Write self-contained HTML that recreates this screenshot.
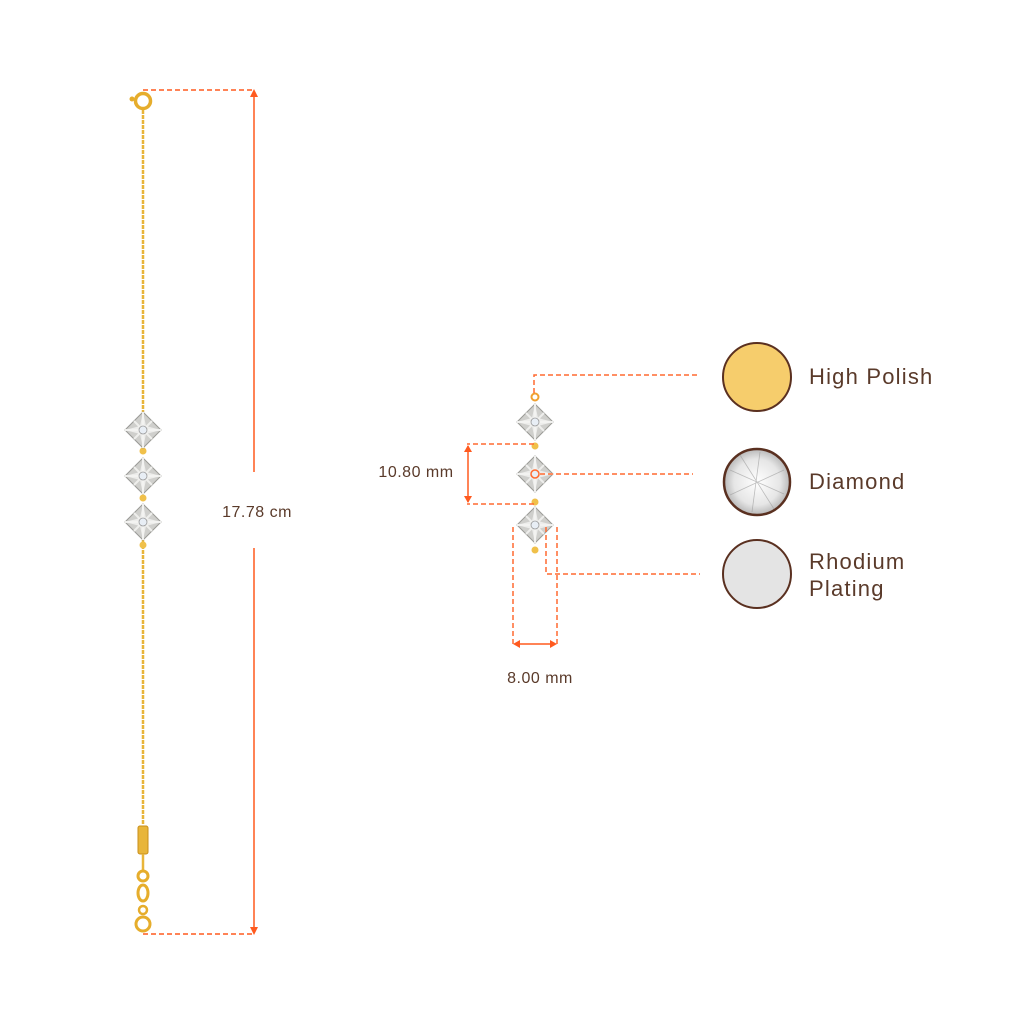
<!DOCTYPE html>
<html><head><meta charset="utf-8"><style>
html,body{margin:0;padding:0;background:#fff;}
svg{display:block}
text{font-family:"Liberation Sans",sans-serif;}
</style></head><body>
<svg width="1024" height="1024" viewBox="0 0 1024 1024" xmlns="http://www.w3.org/2000/svg">
<defs>
<radialGradient id="dg" cx="50%" cy="50%" r="50%">
<stop offset="0" stop-color="#fff"/><stop offset="0.7" stop-color="#e6e6e6"/><stop offset="1" stop-color="#b8b8b8"/>
</radialGradient>
<g id="stone">
<polygon points="0,-18 18,0 0,18 -18,0" fill="#cfcfcc" stroke="#9a9a96" stroke-width="1"/>
<path d="M0,-18 L0,18 M-18,0 L18,0 M-9,-9 L9,9 M9,-9 L-9,9" stroke="#eeeeec" stroke-width="2"/>
<path d="M0,-18 L3,-4 L18,0 L3,4 L0,18 L-3,4 L-18,0 L-3,-4 Z" fill="#f4f4f2" opacity="0.8"/>
<circle r="4" fill="#e8eef5" stroke="#999" stroke-width="0.8"/>
</g>
</defs>
<!-- left chain -->
<line x1="143" y1="110" x2="143" y2="412" stroke="#e8b53a" stroke-width="2.5" stroke-dasharray="4 1"/>
<line x1="143" y1="540" x2="143" y2="825" stroke="#e8b53a" stroke-width="2.5" stroke-dasharray="4 1"/>
<circle cx="143" cy="101" r="7.5" fill="none" stroke="#e6ad2c" stroke-width="3.5"/>
<circle cx="132" cy="99" r="2.5" fill="#e6ad2c"/>
<circle cx="143" cy="451" r="3.5" fill="#f0c04a"/>
<circle cx="143" cy="498" r="3.5" fill="#f0c04a"/>
<circle cx="143" cy="545" r="3.5" fill="#f0c04a"/>
<use href="#stone" x="143" y="430"/>
<use href="#stone" x="143" y="476"/>
<use href="#stone" x="143" y="522"/>
<rect x="138" y="826" width="10" height="28" rx="2" fill="#e8b53a" stroke="#c98e1a"/>
<line x1="143" y1="854" x2="143" y2="872" stroke="#e8b53a" stroke-width="2.5"/>
<circle cx="143" cy="876" r="5" fill="none" stroke="#e6ad2c" stroke-width="3"/>
<ellipse cx="143" cy="893" rx="5" ry="8" fill="none" stroke="#e6ad2c" stroke-width="3"/>
<circle cx="143" cy="924" r="7" fill="none" stroke="#e6ad2c" stroke-width="3"/>
<circle cx="143" cy="910" r="4" fill="none" stroke="#e6ad2c" stroke-width="2.5"/>
<!-- 17.78 dims -->
<g stroke="#ff5a1f" stroke-width="1.5" fill="none">
<line x1="143" y1="90" x2="254" y2="90" stroke-dasharray="5 3"/>
<line x1="143" y1="934" x2="254" y2="934" stroke-dasharray="5 3"/>
<line x1="254" y1="92" x2="254" y2="472"/>
<line x1="254" y1="548" x2="254" y2="932"/>
</g>
<polygon points="254,89 250,97 258,97" fill="#ff5a1f"/>
<polygon points="254,935 250,927 258,927" fill="#ff5a1f"/>
<text x="257" y="517" font-size="16" fill="#5a3a2a" text-anchor="middle" letter-spacing="0.5">17.78 cm</text>
<!-- right pendant -->
<circle cx="535" cy="397" r="3.5" fill="none" stroke="#f0a030" stroke-width="2"/>
<circle cx="535" cy="446" r="3.5" fill="#f0c04a"/>
<circle cx="535" cy="502" r="3.5" fill="#f0c04a"/>
<circle cx="535" cy="550" r="3.5" fill="#f0c04a"/>
<use href="#stone" x="535" y="422"/>
<use href="#stone" x="535" y="474"/>
<use href="#stone" x="535" y="525"/>
<g stroke="#ff6a30" stroke-width="1.5" fill="none" stroke-dasharray="5 3">
<polyline points="534,393 534,375 698,375"/>
<line x1="540" y1="474" x2="693" y2="474"/>
<circle cx="535" cy="474" r="4" stroke-dasharray="none"/>
<line x1="534" y1="444" x2="467" y2="444"/>
<line x1="534" y1="504" x2="467" y2="504"/>
<polyline points="546,527 546,574 700,574"/>
<line x1="513" y1="527" x2="513" y2="644"/>
<line x1="557" y1="527" x2="557" y2="644"/>
</g>
<g stroke="#ff5a1f" stroke-width="1.5">
<line x1="468" y1="446" x2="468" y2="502"/>
<line x1="515" y1="644" x2="555" y2="644"/>
</g>
<g fill="#ff5a1f">
<polygon points="468,445 464,452 472,452"/>
<polygon points="468,503 464,496 472,496"/>
<polygon points="513,644 520,640 520,648"/>
<polygon points="557,644 550,640 550,648"/>
</g>
<text x="416" y="477" font-size="16" fill="#5a3a2a" text-anchor="middle" letter-spacing="0.5">10.80 mm</text>
<text x="540" y="683" font-size="16" fill="#5a3a2a" text-anchor="middle" letter-spacing="0.5">8.00 mm</text>
<!-- swatches -->
<circle cx="757" cy="377" r="34" fill="#f6cd6c" stroke="#5a3020" stroke-width="2"/>
<circle cx="757" cy="482" r="33" fill="url(#dg)" stroke="#5a3020" stroke-width="2.5"/>
<g stroke="#999" stroke-width="0.8" opacity="0.6">
<line x1="730" y1="470" x2="784" y2="494"/><line x1="740" y1="455" x2="774" y2="509"/>
<line x1="730" y1="495" x2="784" y2="470"/><line x1="760" y1="452" x2="752" y2="512"/>
</g>
<circle cx="757" cy="574" r="34" fill="#e4e4e4" stroke="#5a3020" stroke-width="2"/>
<g font-size="22" fill="#5a3a2a" letter-spacing="1.2">
<text x="809" y="384">High Polish</text>
<text x="809" y="489">Diamond</text>
<text x="809" y="569">Rhodium</text>
<text x="809" y="596">Plating</text>
</g>
</svg>
</body></html>
